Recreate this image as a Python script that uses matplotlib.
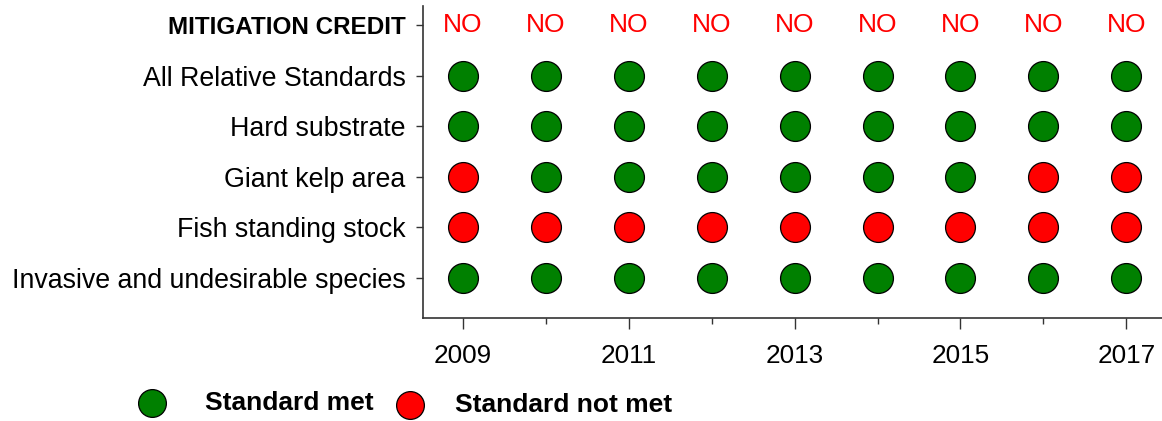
import matplotlib
matplotlib.use("Agg")
import matplotlib.pyplot as plt
from matplotlib.ticker import FixedLocator, NullFormatter
from matplotlib.lines import Line2D

plt.rcParams['font.family'] = ['Liberation Sans', 'DejaVu Sans']

years = [2009, 2010, 2011, 2012, 2013, 2014, 2015, 2016, 2017]
credit_row_label = "MITIGATION CREDIT"
credit = ["NO"] * 9
standards = ["All Relative Standards", "Hard substrate", "Giant kelp area",
             "Fish standing stock", "Invasive and undesirable species"]
# 1 = standard met, 0 = not met
status = {
    "All Relative Standards":           [1, 1, 1, 1, 1, 1, 1, 1, 1],
    "Hard substrate":                   [1, 1, 1, 1, 1, 1, 1, 1, 1],
    "Giant kelp area":                  [0, 1, 1, 1, 1, 1, 1, 0, 0],
    "Fish standing stock":              [0, 0, 0, 0, 0, 0, 0, 0, 0],
    "Invasive and undesirable species": [1, 1, 1, 1, 1, 1, 1, 1, 1],
}
major_years = [2009, 2011, 2013, 2015, 2017]
legend_labels = ["Standard met", "Standard not met"]

GREEN = "#008000"
RED = "#FF0000"

fig = plt.figure(figsize=(11.62, 4.21), dpi=100)
ax = fig.add_axes([423/1162, 1-318/421, 1-423/1162, (318-6)/421])

for i, s in enumerate(standards):
    y = i + 1
    for yr, v in zip(years, status[s]):
        ax.plot(yr, y, 'o', ms=21.5, mfc=GREEN if v else RED, mec='black', mew=0.9, clip_on=False)

for yr, c in zip(years, credit):
    ax.text(yr, 0, c, color=RED, fontsize=19, ha='center', va='center')

ax.set_xlim(2008.52, 2017.43)
ax.set_ylim(5.79, -0.375)

ax.set_yticks(range(len(standards) + 1))
ax.set_yticklabels([credit_row_label] + standards)
for k, lab in enumerate(ax.get_yticklabels()):
    lab.set_fontsize(19.3)
    if k == 0:
        lab.set_fontweight('bold')
        lab.set_fontsize(17.5)

ax.xaxis.set_major_locator(FixedLocator(major_years))
ax.xaxis.set_minor_locator(FixedLocator([y for y in years if y not in major_years]))
ax.xaxis.set_minor_formatter(NullFormatter())
ax.set_xticklabels([str(y) for y in major_years], fontsize=18.8)
ax.tick_params(axis='x', which='major', length=8, width=1, color='#333333', pad=11)
ax.tick_params(axis='x', which='minor', length=4, width=1, color='#333333')
ax.tick_params(axis='y', which='major', length=5, width=1, color='#333333', pad=7.5)

for sp in ['top', 'right']:
    ax.spines[sp].set_visible(False)
for sp in ['left', 'bottom']:
    ax.spines[sp].set_color('#333333')
    ax.spines[sp].set_linewidth(1.2)

# Legend
fig.add_artist(Line2D([152/1162], [1-403/421], marker='o', ms=20, mfc=GREEN, mec='black', mew=0.9,
                      transform=fig.transFigure))
fig.text(205/1162, 1-403/421, legend_labels[0], fontsize=19, fontweight='bold', va='center', ha='left')
fig.add_artist(Line2D([410/1162], [1-405/421], marker='o', ms=20, mfc=RED, mec='black', mew=0.9,
                      transform=fig.transFigure))
fig.text(455/1162, 1-405/421, legend_labels[1], fontsize=19, fontweight='bold', va='center', ha='left')

fig.savefig("out.png", dpi=100)
